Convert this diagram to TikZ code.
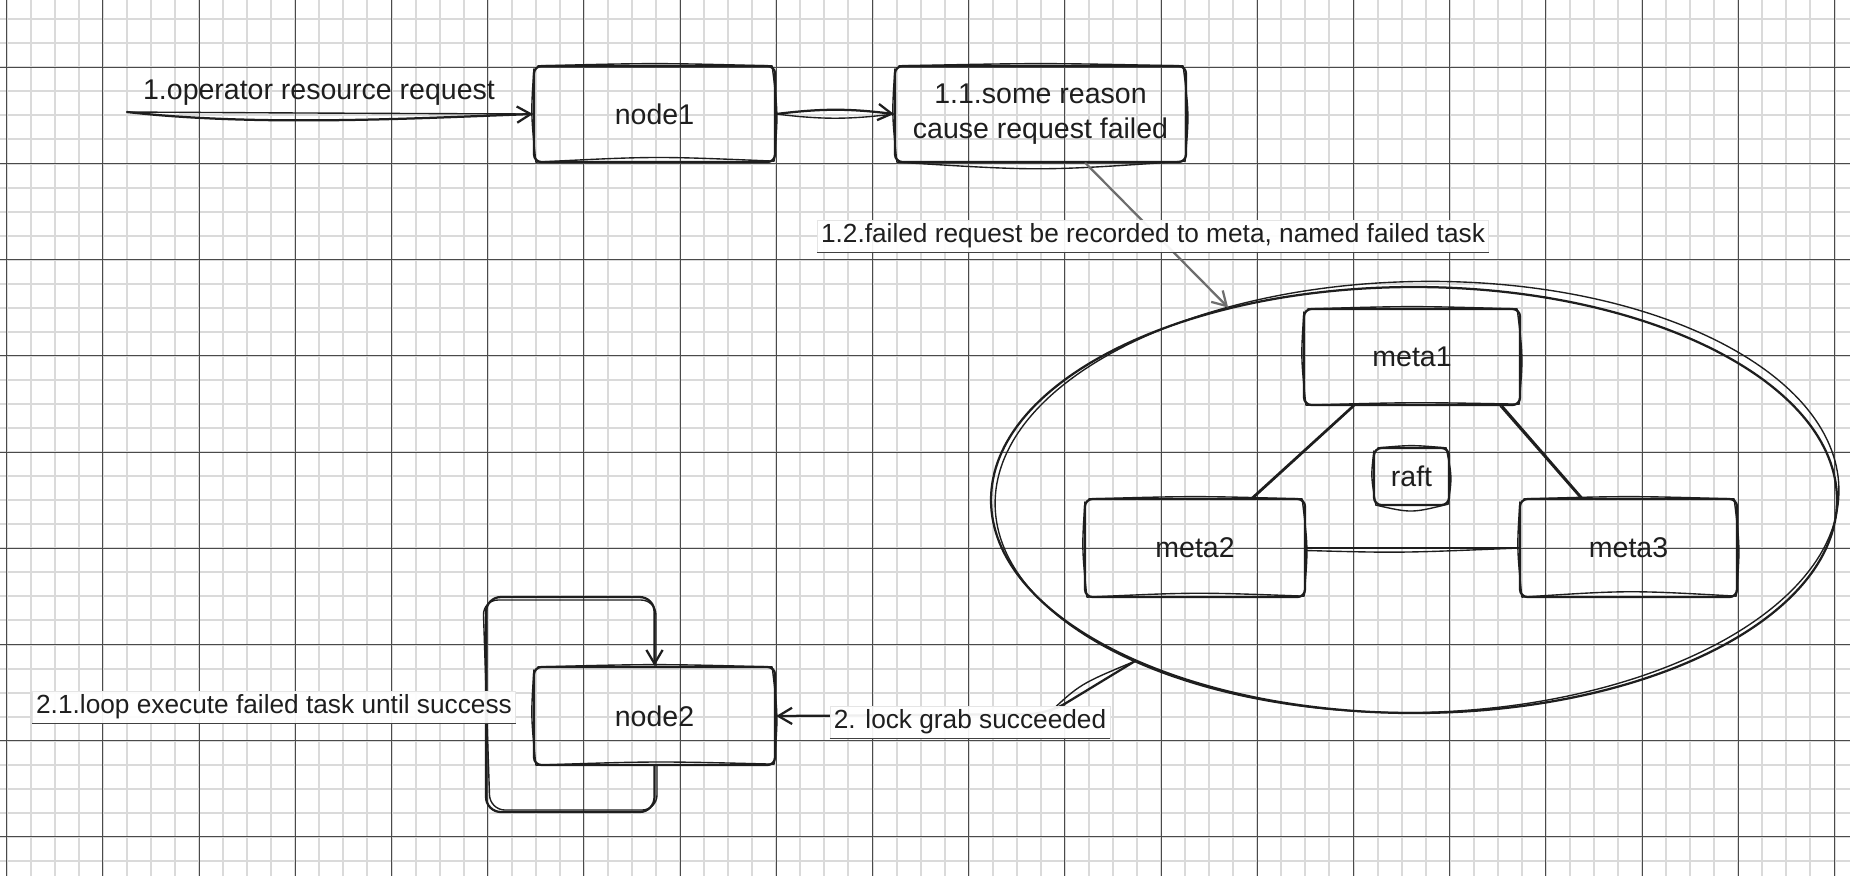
\documentclass[tikz,border=0pt]{standalone}
\usepackage{fontspec}
\setmainfont{Liberation Sans}
\usetikzlibrary{arrows.meta,shapes.geometric,calc}
\definecolor{ink}{HTML}{1E1E1E}
\definecolor{minorgrid}{HTML}{DADADA}
\definecolor{majorgrid}{HTML}{4A4A4A}
\definecolor{greyarrow}{HTML}{6E6E6E}
\tikzset{
  inkline/.style={draw=ink, line width=0.9pt, line cap=round, line join=round},
  inkthin/.style={draw=ink, line width=0.55pt, line cap=round, line join=round},
  sbox/.style 2 args={inkline, rounded corners=3pt, minimum width=#1*0.4pt,
    minimum height=#2*0.4pt, inner sep=0pt, align=center, text=ink,
    font=\fontsize{11.4}{14}\selectfont},
  tip/.style={-{Straight Barb[length=5.5pt,width=6.5pt]}},
  lbl/.style={font=\fontsize{11.4}{13}\selectfont, inner sep=1.5pt, text=ink},
  tag/.style={lbl, font=\fontsize{10.5}{12}\selectfont, fill=white, fill opacity=0.93, text opacity=1,
    draw=black!10, line width=0.3pt},
  tagline/.style={draw=black!75, line width=0.6pt},
  minorline/.style={draw=minorgrid, line width=0.8pt},
  majorline/.style={draw=majorgrid, line width=0.4pt}
}
% second, looser pen stroke round a box; #1 = sag of the bottom edge
\newcommand\skout[2][-6]{%
  \draw[inkthin] ([shift={(5,1)}]#2.north west)
    .. controls ([shift={(0,-2)}]#2.north) .. ([shift={(-4,1)}]#2.north east)
    .. controls ([shift={(2,0)}]#2.east) .. ([shift={(-2,-2)}]#2.south east)
    .. controls ([shift={(0,#1)}]#2.south) .. ([shift={(3,-1)}]#2.south west)
    .. controls ([shift={(-2,0)}]#2.west) .. ([shift={(1,4)}]#2.north west);}
\begin{document}
\begin{tikzpicture}[x=0.4pt,y=-0.4pt]
\useasboundingbox (0,0) rectangle (1850,876);
\fill[white] (0,0) rectangle (1850,876);
% squared paper
\foreach \i in {0,...,76} \draw[minorline] ({6.7+24.05*\i},0) -- ({6.7+24.05*\i},876);
\foreach \j in {0,...,35} \draw[minorline] (0,{19.2+24.05*\j}) -- (1850,{19.2+24.05*\j});
\foreach \i in {0,...,19} \draw[majorline] ({6.7+96.2*\i},0) -- ({6.7+96.2*\i},876);
\foreach \j in {0,...,8} \draw[majorline] (0,{67.3+96.2*\j}) -- (1850,{67.3+96.2*\j});

% boxes
\node[sbox={241}{96}] (node1) at (654.5,114) {node1};
\node[sbox={291}{96}] (fail) at (1040.5,114) {1.1.some reason\\cause request failed};
\node[draw=ink, line width=0.9pt, ellipse, minimum width=846*0.4pt, minimum height=426*0.4pt, inner sep=0pt] (cluster) at (1414,500) {};
\draw[inkthin] ([shift={(3,-3)}]cluster.center) ellipse [x radius=168.8pt, y radius=86.2pt, rotate=1.2];
\node[sbox={216}{96}] (meta1) at (1412,357) {meta1};
\node[sbox={220}{98}] (meta2) at (1195,548) {meta2};
\node[sbox={217}{98}] (meta3) at (1628.5,548) {meta3};
\node[sbox={75}{57}] (raft) at (1411.5,476.5) {raft};
\node[sbox={241}{98}] (node2) at (654.5,716) {node2};
\skout[-7]{node1}
\skout[8]{fail}
\skout[-4]{meta1}
\skout[-6]{meta2}
\skout[-8]{meta3}
\skout[7]{raft}
\skout[-5]{node2}

% step 1
\coordinate (src) at (127,112);
\draw[inkline, tip] (src) .. controls (260,127) and (420,118) .. (node1.west);
\draw[inkthin] (src) .. controls (300,113) .. (node1.west);
\node[lbl] (lab1) at (319,93) {1.operator resource request};

% node1 -> failure
\draw[inkline, tip] (node1.east) to[bend left=7] (fail.west);
\draw[inkthin] (node1.east) to[bend right=7] (fail.west);

% failure recorded to meta
\draw[greyarrow, line width=0.9pt, line cap=round, tip] ([xshift=18pt]fail.south) -- (cluster.134);
\node[tag] (lab12) at (1153,236) {1.2.failed request be recorded to meta, named failed task};
\draw[tagline] (lab12.south west) -- (lab12.south east);

% raft links
\draw[inkline] ([xshift=20pt]meta1.south west) -- ([xshift=-21.6pt]meta2.north east);
\draw[inkthin] ([xshift=20.5pt]meta1.south west) -- ([xshift=-21pt]meta2.north east);
\draw[inkline] ([xshift=-7.6pt]meta1.south east) -- ([xshift=25.2pt]meta3.north west);
\draw[inkthin] ([xshift=-8.4pt]meta1.south east) -- ([xshift=24.6pt]meta3.north west);
\draw[inkline] (meta2.east) -- (meta3.west);
\draw[inkthin] ([yshift=-1pt]meta2.east) .. controls (1400,553) .. (meta3.west);

% lock grab
\coordinate (knee) at (1048,714);
\draw[inkline, tip, rounded corners=8pt] (cluster.210) -- (knee) -- (node2.east);
\draw[inkthin] (cluster.210) .. controls (1080,684) .. (knee);
\node[tag] (lab2) at (970,722) {2. lock grab succeeded};
\draw[tagline] (lab2.south west) -- (lab2.south east);

% retry loop
\coordinate (lpa) at (486,812);
\coordinate (lpb) at (486,597);
\draw[inkline, tip, rounded corners=6pt] (node2.south) |- (lpa) -- (lpb) -| (node2.north);
\draw[inkthin, rounded corners=6pt] ([xshift=1pt]node2.south) |- ([shift={(4,-2)}]lpa) -- ([shift={(-3,3)}]lpb) -| ([xshift=0.6pt]node2.north);
\node[tag] (lab21) at (274,707) {2.1.loop execute failed task until success};
\draw[tagline] (lab21.south west) -- (lab21.south east);
\end{tikzpicture}
\end{document}
